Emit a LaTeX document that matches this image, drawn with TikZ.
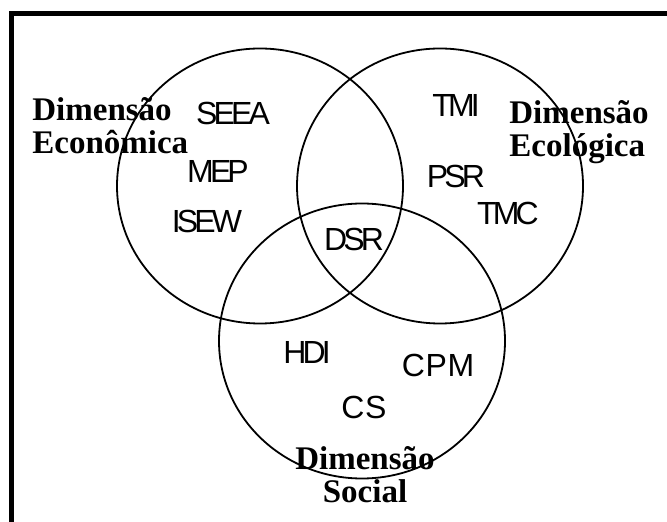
\documentclass[tikz,border=0pt]{standalone}
\usepackage{fontspec}
\setmainfont{Liberation Serif}
\setsansfont{Liberation Sans}
\newfontfamily\indexfont{Liberation Sans}[LetterSpace=-12]
\newfontfamily\indexfontwide{Liberation Sans}[LetterSpace=2]
\usetikzlibrary{positioning, shapes.geometric}

\begin{document}
\begin{tikzpicture}[
		x=0.5pt, y=-0.5pt,
		SetStyle/.style={draw, ellipse, minimum width=143pt, minimum height=137.5pt, inner sep=0pt, line width=0.9pt},
		IndexStyle/.style={font=\indexfont\fontsize{16}{16}\selectfont, inner sep=0pt},
		WideIndexStyle/.style={font=\indexfontwide\fontsize{16}{16}\selectfont, inner sep=0pt},
		DimStyle/.style={font=\bfseries\fontsize{16.5}{16.5}\selectfont, inner sep=0pt}]
	\useasboundingbox (0,0) rectangle (667,522);
	% frame
	\draw[line width=2.5pt] (11,522) -- (11,14) -- (667,14);
	% the three dimensions
	\node [SetStyle] (econ) at (260,186) {};
	\node [SetStyle] (ecol) at (440,186) {};
	\node [SetStyle] (soc) at (362,341) {};
	% indicators
	\node [IndexStyle] (seea) at (233,113) {SEEA};
	\node [IndexStyle] (mep) at (218,171) {MEP};
	\node [IndexStyle] (isew) at (207,221) {ISEW};
	\node [IndexStyle] (tmi) at (456,105) {TMI};
	\node [IndexStyle] (psr) at (456,176) {PSR};
	\node [IndexStyle] (tmc) at (508,213) {TMC};
	\node [IndexStyle] (dsr) at (354,239) {DSR};
	\node [IndexStyle] (hdi) at (307,352) {HDI};
	\node [WideIndexStyle] (cpm) at (438,365) {CPM};
	\node [WideIndexStyle] (cs) at (364,407) {CS};
	% dimension labels
	\node [DimStyle, align=left, anchor=west] (econlbl) at (32,126) {Dimensão\\Econômica};
	\node [DimStyle, align=left, anchor=west] (ecollbl) at (509,132) {Dimensão\\Ecológica};
	\node [DimStyle, align=center] (soclbl) at (365,475) {Dimensão\\Social};
\end{tikzpicture}
\end{document}
